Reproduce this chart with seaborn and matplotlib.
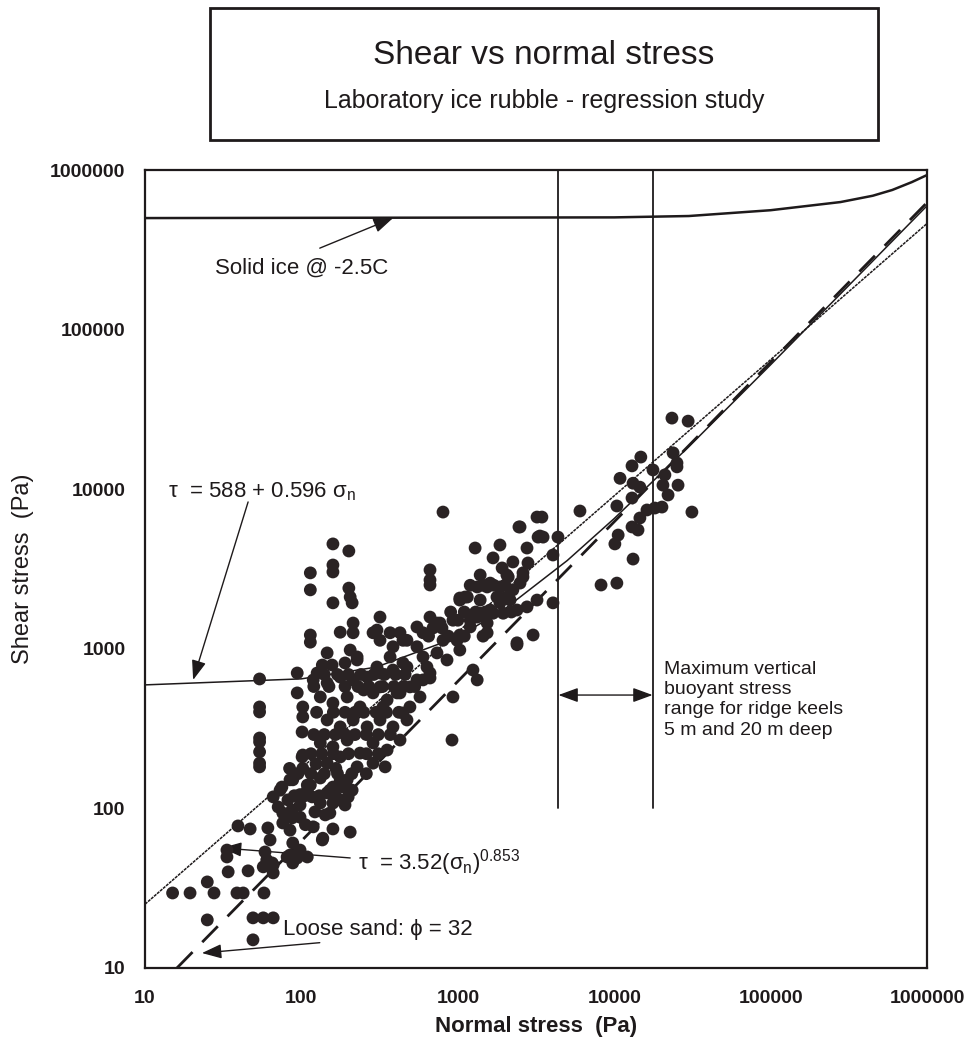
import matplotlib
matplotlib.use('Agg')
import matplotlib.pyplot as plt
import seaborn as sns
from matplotlib import font_manager
from matplotlib.ticker import FixedLocator, FixedFormatter, NullLocator
from matplotlib.patches import Rectangle

# ---------------- data ----------------
SIGMA = [15, 19.4, 25, 27.6, 38.7, 42.4, 57.6, 34, 45.6, 25, 49, 57, 66, 49, 39.3, 47, 33.4, 33.4,
         58.5, 60, 66, 61, 63, 81, 94, 109, 88, 76, 87, 136, 159, 205, 119,
         54, 54, 54, 54, 54, 54, 54, 54,
         101, 101, 109, 66, 75, 82, 71, 76, 87, 98, 117, 132, 122, 146, 159, 152, 185, 199, 137, 88,
         98, 65, 57, 66, 84.5, 73, 84.5, 98, 114, 132, 152, 177, 211, 190, 102, 124, 166, 84,
         804, 159, 201, 114, 114, 159, 159, 159, 201, 205, 211, 664, 664, 664, 1290, 1860, 2500, 2770,
         3210, 3260, 1680, 2250, 2810, 1920, 1390, 2060, 2610, 1330, 1610, 2250, 2500, 1030, 1110, 318,
         114, 114, 177, 214, 214, 146, 205, 227, 287, 318, 385, 427, 473, 548, 664, 736, 792, 931, 1030,
         1200, 1330, 1540, 1680, 1860, 2060, 2390, 2770, 3210, 2390, 3030, 1250, 1330, 931, 918, 664, 635,
         94, 94, 102, 102, 102, 126, 146, 177, 214, 263, 318, 385, 473, 132, 159, 196, 237, 287, 353, 427,
         494, 573, 146, 177, 214, 263, 318, 385, 473, 132, 159, 196, 237, 287, 353, 427, 146, 177, 227,
         287, 343, 88, 109, 159, 196,
         3450, 2460, 3350, 2100, 2610, 1540, 1860, 1030, 1150, 1390, 1780, 2160, 769, 1000, 1200, 1390,
         1610, 1950, 1540, 989, 1030, 694, 599, 804, 2390, 304, 369, 446, 548, 599, 736, 853, 664, 548,
         446, 369, 304, 318, 409, 494, 599, 446, 332,
         23400, 29700, 23800, 25200, 25200, 14800, 13000, 17700, 10900, 21100, 13200, 14600, 20500, 22100,
         25600, 13000, 10400, 6040, 16200, 18200, 20200, 14600, 31400, 13000, 14200, 10600, 10100, 3510,
         4370, 4060, 13200, 8240, 10400, 4060,
         157, 227, 119, 136, 190, 250, 98, 142, 177, 106, 84.5,
         140, 170, 200, 240, 290, 340, 400, 460,
         120, 150, 190, 230, 270, 330, 390, 450, 530,
         125, 160, 190, 220, 250, 300, 350, 420,
         120, 140, 165, 190, 220, 260, 310, 370,
         115, 135, 160, 200, 260, 310,
         95, 115, 140, 170, 210, 260,
         90, 105, 130, 165,
         650, 870, 1100, 1450,
         900, 1100, 1300, 1500, 2200,
         1200, 1450, 1700, 2000]
TAU = [29.5, 29.5, 34.6, 29.5, 29.5, 29.5, 29.5, 40, 40.6, 20, 20.6, 20.6, 20.6, 15, 77.6, 74.3, 54.8, 49.6,
       53.3, 47.5, 44.2, 75.4, 63.4, 49.6, 48.9, 49.6, 45.5, 81, 87, 63.4, 74.3, 71, 76.6,
       647, 432, 402, 276, 261, 226, 192, 182,
       301, 210, 140, 118, 136, 113, 102, 93.5, 97.7, 88, 118, 108, 95, 125, 108, 93.5, 136, 118, 65, 60.7,
       54.8, 45.5, 43, 39.4, 51, 130, 151, 122, 140, 155, 130, 151, 130, 105, 178, 190, 178, 178,
       7190, 4540, 4100, 2990, 2340, 3350, 3030, 1940, 2400, 2110, 1940, 3120, 2700, 2510, 4280, 4470, 5800, 4280,
       6690, 5010, 3710, 3500, 3450, 3210, 2900, 2900, 2990, 2440, 2580, 2340, 2580, 2080, 2110, 1580,
       1220, 1100, 1270, 1450, 1260, 942, 982, 851, 1260, 1130, 1030, 1260, 1130, 1370, 1580, 1450, 1350, 1510, 1220,
       1370, 1580, 1450, 1670, 1940, 2110, 1750, 1830, 2020, 1090, 1220, 736, 638, 499, 268, 656, 769,
       705, 529, 432, 374, 216, 705, 611, 665, 638, 665, 705, 736, 769, 499, 457, 499, 432, 529, 478, 529,
       432, 499, 358, 324, 358, 324, 358, 324, 358, 257, 243, 268, 222, 257, 232, 268, 192, 210, 182,
       192, 182, 151, 130, 136, 151,
       6690, 5800, 5090, 2820, 2820, 2440, 2440, 2020, 2110, 2020, 2110, 2020, 1450, 1510, 1510, 1670,
       1750, 1670, 1260, 1130, 982, 1350, 1260, 1130, 1060, 1310, 1260, 1130, 1030, 889, 942, 851, 705, 638,
       815, 889, 769, 577, 529, 577, 638, 396, 432,
       27900, 26700, 16900, 14600, 13800, 15900, 14000, 13200, 11700, 12300, 10900, 10300, 10600, 9200,
       10600, 8810, 7850, 7300, 7410, 7620, 7730, 6600, 7190, 5800, 5550, 5160, 4540, 5010,
       5010, 3870, 3650, 2510, 2580, 1940,
       791, 889, 638, 791, 815, 552, 105, 91, 113, 79, 73,
       690, 690, 690, 690, 690, 690, 690, 690,
       580, 580, 580, 580, 580, 580, 580, 580, 580,
       400, 400, 400, 400, 400, 400, 400, 400,
       290, 290, 290, 290, 290, 290, 290, 290,
       220, 220, 220, 220, 220, 220,
       165, 165, 165, 165, 165, 165,
       120, 120, 120, 120,
       1200, 1200, 1200, 1200,
       1700, 1700, 1700, 1700, 1700,
       2500, 2500, 2500, 2500]

ICE_SIGMA = [10, 10000, 30000, 100000, 280000, 450000, 600000, 800000, 1000000]
ICE_TAU = [500000, 505000, 515000, 560000, 630000, 690000, 750000, 840000, 930000]

LIN_SIGMA = [10, 100, 300, 1000, 2000, 5000, 10000, 30000, 100000, 300000, 1000000]
LIN_TAU = [594, 648, 767, 1184, 1780, 3568, 6548, 18468, 60188, 179388, 596588]

POW_SIGMA = [10, 1000000]
POW_TAU = [25.1, 461900]

SAND_SIGMA = [16, 1000000]
SAND_TAU = [10, 625000]

KEEL_SIGMA = [4400, 17600]
KEEL_TAU = [100, 1000000]
KEEL_ARROW_TAU = 513

TICKS = [10, 100, 1000, 10000, 100000, 1000000]
TICK_LABELS = ['10', '100', '1000', '10000', '100000', '1000000']

TITLE = 'Shear vs normal stress'
SUBTITLE = 'Laboratory ice rubble - regression study'

# ---------------- style ----------------
sns.set_theme(style='white')
names = {f.name for f in font_manager.fontManager.ttflist}
FONT = 'Liberation Sans' if 'Liberation Sans' in names else 'DejaVu Sans'
plt.rcParams['font.family'] = [FONT, 'DejaVu Sans']
plt.rcParams['mathtext.fontset'] = 'custom'
plt.rcParams['mathtext.rm'] = FONT
plt.rcParams['mathtext.it'] = FONT
plt.rcParams['mathtext.sf'] = FONT

INK = '#1e1a1b'
DOT = '#2a2324'

fig = plt.figure(figsize=(9.67, 10.47), dpi=100)
ax = fig.add_axes([0.150, 0.0755, 0.8086, 0.7621])
ax.set_xscale('log')
ax.set_yscale('log')

# lines
ax.plot(ICE_SIGMA, ICE_TAU, color=INK, lw=1.8, zorder=3)
ax.plot(LIN_SIGMA, LIN_TAU, color=INK, lw=1.1, zorder=3)
ax.plot(POW_SIGMA, POW_TAU, color=INK, lw=1.1, ls=(0, (2, 0.6)), zorder=3)
ax.plot(SAND_SIGMA, SAND_TAU, color=INK, lw=2.0, ls=(0, (8, 5)), zorder=3)
for s in KEEL_SIGMA:
    ax.plot([s, s], KEEL_TAU, color=INK, lw=1.3, zorder=3)

sns.scatterplot(x=SIGMA, y=TAU, ax=ax, s=85, color=DOT, edgecolor='none', linewidth=0, zorder=4)

ax.set_xlim(TICKS[0], TICKS[-1])
ax.set_ylim(TICKS[0], TICKS[-1])

for axis in (ax.xaxis, ax.yaxis):
    axis.set_major_locator(FixedLocator(TICKS))
    axis.set_major_formatter(FixedFormatter(TICK_LABELS))
    axis.set_minor_locator(NullLocator())
ax.tick_params(axis='both', which='major', direction='in', length=9, width=1.0, color=INK,
               labelsize=14, labelcolor=INK)
ax.tick_params(axis='x', pad=16)
ax.tick_params(axis='y', pad=14)
for lab in ax.get_xticklabels() + ax.get_yticklabels():
    lab.set_fontweight('bold')
for sp in ax.spines.values():
    sp.set_color(INK)
    sp.set_linewidth(1.6)

ax.set_xlabel('Normal stress  (Pa)', fontsize=16, fontweight='bold', color=INK, labelpad=6)
ax.set_ylabel('Shear stress  (Pa)', fontsize=17, color=INK, labelpad=12)

# annotations
AP = dict(arrowstyle='-|>,head_length=0.6,head_width=0.22', color=INK, lw=1.0,
          shrinkA=0, shrinkB=0, mutation_scale=20)

ax.text(28, 243000, 'Solid ice @ -2.5C', fontsize=16, color=INK, va='center', ha='left')
ax.annotate('', xy=(385, 500000), xytext=(131, 324000), arrowprops=AP)

ax.text(14, 9600, 'τ  = 588 + 0.596 σ$_{\\rm n}$', fontsize=16, color=INK, va='center', ha='left')
ax.annotate('', xy=(20.3, 638), xytext=(45.6, 8320), arrowprops=AP)

ax.text(230, 46, 'τ  = 3.52(σ$_{\\rm n}$)$^{0.853}$', fontsize=16, color=INK, va='center', ha='left')
ax.annotate('', xy=(31, 56.5), xytext=(205, 48.9), arrowprops=AP)

ax.text(76, 17.3, 'Loose sand: ϕ = 32', fontsize=16, color=INK, va='center', ha='left')
ax.annotate('', xy=(23.1, 12.4), xytext=(131, 14.4), arrowprops=AP)

ax.annotate('', xy=(KEEL_SIGMA[0], KEEL_ARROW_TAU), xytext=(KEEL_SIGMA[1], KEEL_ARROW_TAU),
            arrowprops=dict(arrowstyle='<|-|>,head_length=0.6,head_width=0.22', color=INK, lw=1.0,
                            shrinkA=0, shrinkB=0, mutation_scale=20))
ax.text(20800, 480, 'Maximum vertical\nbuoyant stress\nrange for ridge keels\n5 m and 20 m deep',
        fontsize=14, color=INK, va='center', ha='left', linespacing=1.25)

# title box
fig.patches.append(Rectangle((0.217, 0.866), 0.691, 0.126, transform=fig.transFigure,
                             fill=False, edgecolor=INK, lw=2.0))
fig.text(0.5625, 0.947, TITLE, fontsize=24, ha='center', va='center', color=INK)
fig.text(0.5625, 0.904, SUBTITLE, fontsize=18, ha='center', va='center', color=INK)

fig.savefig('out.png', dpi=100, facecolor='white')
